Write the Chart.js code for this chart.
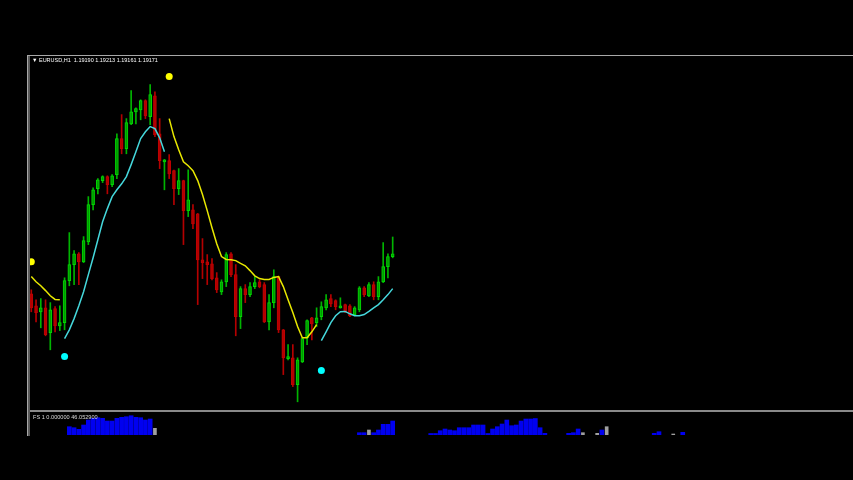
<!DOCTYPE html>
<html>
<head>
<meta charset="utf-8">
<script src="https://cdn.jsdelivr.net/npm/chart.js@4/dist/chart.umd.min.js"></script>
<style>
    html, body { margin: 0; padding: 0; background: #000; }
    #wrap { position: relative; width: 853px; height: 480px; background: #000; overflow: hidden; }
    #main { position: absolute; left: 0; top: 0; }
    #sub { position: absolute; left: 0; top: 412px; }
    .line { position: absolute; }
    #frameTop { left: 27px; top: 55px; width: 826px; height: 1px; background: #a8a8a8; }
    #frameLeft1 { left: 27px; top: 55px; width: 1px; height: 381px; background: #a8a8a8; }
    #frameLeft2 { left: 28px; top: 56px; width: 2px; height: 380px; background: #5a5a5a; }
    #sep { left: 27px; top: 410px; width: 826px; height: 2px; background: #8a8a8a; }
    .label { position: absolute; color: #fff; font-family: "Liberation Sans", Arial, sans-serif; font-size: 5.5px; white-space: pre; line-height: 7px; }
    #title { left: 32px; top: 57px; }
    #fsLabel { left: 33px; top: 414px; color: #d8d8d8; font-size: 5.6px; }
</style>
</head>
<body>
<div id="wrap">
    <canvas id="main" width="853" height="410"></canvas>
    <canvas id="sub" width="853" height="24"></canvas>
    <div class="line" id="frameTop"></div>
    <div class="line" id="sep"></div>
    <div class="line" id="frameLeft1"></div>
    <div class="line" id="frameLeft2"></div>
    <div class="label" id="title">▼ EURUSD,H1  1.19190 1.19213 1.19161 1.19171</div>
    <div class="label" id="fsLabel">FS 1 0.000000 46.052900</div>
</div>
<script>
/* --- Data (EURUSD H1) --- */
const candleOpen = [1.19071, 1.19041, 1.19026, 1.19036, 1.18974, 1.19034, 1.18991, 1.18999, 1.19104, 1.19144,
    1.19171, 1.19151, 1.19201, 1.19294, 1.19334, 1.19354, 1.19364, 1.19344, 1.19369, 1.19459,
    1.19434, 1.19496, 1.19526, 1.19531, 1.19554, 1.19514, 1.19566, 1.19471, 1.19401, 1.19404,
    1.19379, 1.19334, 1.19354, 1.19279, 1.19281, 1.19271, 1.19156, 1.19151, 1.19146, 1.19111,
    1.19076, 1.19101, 1.19171, 1.19119, 1.19014, 1.19084, 1.19069, 1.19089, 1.19101, 1.19094,
    1.19001, 1.19049, 1.19114, 1.18981, 1.18909, 1.18911, 1.18844, 1.18901, 1.18961, 1.19011,
    1.18999, 1.19014, 1.19036, 1.19059, 1.19054, 1.19036, 1.19044, 1.19041, 1.19019, 1.19031,
    1.19086, 1.19066, 1.19094, 1.19064, 1.19101, 1.19139, 1.19164];
const candleHigh = [1.19081, 1.19056, 1.19059, 1.19056, 1.19049, 1.19039, 1.19041, 1.19111, 1.19224, 1.19179,
    1.19174, 1.19214, 1.19314, 1.19336, 1.19359, 1.19366, 1.19366, 1.19369, 1.19471, 1.19519,
    1.19509, 1.19579, 1.19536, 1.19556, 1.19556, 1.19594, 1.19576, 1.19509, 1.19407, 1.19419,
    1.19380, 1.19384, 1.19355, 1.19381, 1.19294, 1.19272, 1.19209, 1.19169, 1.19159, 1.19124,
    1.19106, 1.19174, 1.19174, 1.19144, 1.19089, 1.19094, 1.19099, 1.19114, 1.19106, 1.19099,
    1.19069, 1.19131, 1.19115, 1.18982, 1.18944, 1.18944, 1.18911, 1.18961, 1.19006, 1.19012,
    1.19036, 1.19051, 1.19069, 1.19069, 1.19056, 1.19061, 1.19045, 1.19044, 1.19039, 1.19089,
    1.19089, 1.19099, 1.19101, 1.19114, 1.19199, 1.19171, 1.19213];
const candleLow = [1.19026, 1.19001, 1.18986, 1.18966, 1.18931, 1.18976, 1.18979, 1.18981, 1.19091, 1.19094,
    1.19094, 1.19149, 1.19194, 1.19281, 1.19321, 1.19349, 1.19321, 1.19339, 1.19359, 1.19421,
    1.19421, 1.19494, 1.19496, 1.19506, 1.19509, 1.19494, 1.19464, 1.19384, 1.19331, 1.19359,
    1.19294, 1.19319, 1.19194, 1.19264, 1.19234, 1.19044, 1.19109, 1.19094, 1.19106, 1.19074,
    1.19069, 1.19089, 1.19114, 1.18966, 1.18984, 1.19049, 1.19064, 1.19084, 1.19086, 1.18999,
    1.18981, 1.19036, 1.18974, 1.18869, 1.18906, 1.18839, 1.18801, 1.18899, 1.18944, 1.18956,
    1.18989, 1.19006, 1.19031, 1.19039, 1.19031, 1.19035, 1.19024, 1.19014, 1.19016, 1.19026,
    1.19064, 1.19064, 1.19056, 1.19056, 1.19099, 1.19111, 1.19161];
const candleClose = [1.19036, 1.19024, 1.19036, 1.18969, 1.19031, 1.18991, 1.18999, 1.19104, 1.19144, 1.19171,
    1.19151, 1.19204, 1.19294, 1.19331, 1.19356, 1.19364, 1.19344, 1.19366, 1.19459, 1.19434,
    1.19499, 1.19526, 1.19534, 1.19554, 1.19516, 1.19569, 1.19469, 1.19404, 1.19406, 1.19371,
    1.19334, 1.19354, 1.19279, 1.19306, 1.19246, 1.19156, 1.19149, 1.19144, 1.19109, 1.19081,
    1.19101, 1.19169, 1.19119, 1.19014, 1.19084, 1.19069, 1.19089, 1.19099, 1.19089, 1.19001,
    1.19049, 1.19114, 1.18981, 1.18911, 1.18914, 1.18844, 1.18906, 1.18959, 1.19004, 1.18996,
    1.19011, 1.19039, 1.19056, 1.19046, 1.19039, 1.19041, 1.19026, 1.19016, 1.19036, 1.19086,
    1.19069, 1.19094, 1.19064, 1.19101, 1.19139, 1.19164, 1.19171];

// trend line: cyan below price in up-trend, yellow above price in down-trend
const upLine = [null, null, null, null, null, null, null,
    1.18959, 1.18981, 1.19009, 1.19041, 1.19076, 1.19119, 1.19161, 1.19206, 1.19251, 1.19284,
    1.19314, 1.19331, 1.19346, 1.19364, 1.19394, 1.19426, 1.19459, 1.19476, 1.19489, 1.19484,
    1.19461, 1.19426,
    null, null, null, null, null, null, null, null, null, null, null, null, null, null, null, null,
    null, null, null, null, null, null, null, null, null, null, null, null, null, null, null, null,
    1.18954, 1.18976, 1.18999, 1.19016, 1.19026, 1.19027, 1.19021, 1.19016, 1.19016, 1.19019,
    1.19027, 1.19036, 1.19044, 1.19056, 1.19069, 1.19084];
const downLine = [1.19114, 1.19101, 1.19091, 1.19079, 1.19066, 1.19057, 1.19056,
    null, null, null, null, null, null, null, null, null, null, null,
    null, null, null, null, null, null, null, null, null, null, null,
    1.19509, 1.19464, 1.19431, 1.19401, 1.19391, 1.19379, 1.19354, 1.19319, 1.19279, 1.19236,
    1.19196, 1.19164, 1.19157, 1.19156, 1.19154, 1.19147, 1.19141, 1.19129, 1.19116, 1.19109,
    1.19107, 1.19107, 1.19112, 1.19114, 1.19089, 1.19056, 1.19024, 1.18989, 1.18961, 1.18961,
    1.18976, 1.18994,
    null, null, null, null, null, null, null, null, null, null, null, null, null, null, null, null];

// trend change dots
const upDotBar = [7, 61];
const upDotPrice = [1.18914, 1.18879];
const downDotBar = [0, 29];
const downDotPrice = [1.19151, 1.19614];

// FS histogram (sub window), bar index and value
const fsBlueBar = [8, 9, 10, 11, 12, 13, 14, 15, 16, 17, 18, 19, 20, 21, 22, 23, 24, 25,
    69, 70, 72, 73, 74, 75, 76,
    84, 85, 86, 87, 88, 89, 90, 91, 92, 93, 94, 95, 96, 97, 98, 99, 100, 101, 102, 103, 104, 105, 106, 107, 108,
    113, 114, 115, 120, 131, 132, 137];
const fsBlueValue = [16.6, 14.6, 11.4, 20, 30, 33.4, 34.6, 33.4, 28, 28, 33.4, 35.4, 36.6, 38.6, 35.4, 34.6, 30, 32,
    4.6, 4.6, 4.6, 10, 21.4, 21.4, 28,
    3, 3, 8.6, 12, 10, 8.6, 14.6, 14.6, 14.6, 20, 20, 20, 3, 12, 16.6, 22, 30, 18.6, 20, 28, 32, 32, 33, 14.6, 3.4,
    3.4, 4.6, 12, 10, 3.4, 6.6, 5.4];
const fsGreyBar = [26, 71, 116, 119, 121, 135];
const fsGreyValue = [13.4, 10, 4.6, 3.4, 16.6, 2];
const fsMax = 46.0529;

/* --- Chart setup --- */
const xMin = -0.27;
const xMax = 172.8;
const priceMin = 1.18783;
const priceMax = 1.196655;

const isBull = candleOpen.map((o, i) => candleClose[i] >= o);

function xyLine(values) {
    return values.map((v, i) => ({ x: i, y: v }));
}

function xyPoints(bars, values) {
    return bars.map((b, i) => ({ x: b, y: values[i] }));
}

function initMain() {
    const ctx = document.getElementById('main').getContext('2d');
    new Chart(ctx, {
        type: 'bar',
        data: {
            datasets: [
                {
                    label: 'wicks',
                    data: candleOpen.map((o, i) => ({ x: i, y: [candleLow[i], candleHigh[i]] })),
                    backgroundColor: isBull.map(b => b ? '#00b400' : '#b40000'),
                    barThickness: 1,
                    grouped: false,
                    order: 3
                },
                {
                    label: 'bodies',
                    data: candleOpen.map((o, i) => ({ x: i, y: [o, candleClose[i]] })),
                    backgroundColor: isBull.map(b => b ? '#009a00' : '#b00000'),
                    borderColor: isBull.map(b => b ? '#00d800' : '#c00000'),
                    borderWidth: 1,
                    borderSkipped: false,
                    barThickness: 3,
                    grouped: false,
                    order: 2
                },
                {
                    type: 'line',
                    label: 'up',
                    data: xyLine(upLine),
                    borderColor: '#45d8dc',
                    borderWidth: 1.5,
                    pointRadius: 0,
                    spanGaps: false,
                    order: 1
                },
                {
                    type: 'line',
                    label: 'down',
                    data: xyLine(downLine),
                    borderColor: '#e8e800',
                    borderWidth: 1.5,
                    pointRadius: 0,
                    spanGaps: false,
                    order: 1
                },
                {
                    type: 'scatter',
                    label: 'up dots',
                    data: xyPoints(upDotBar, upDotPrice),
                    backgroundColor: '#00ffff',
                    borderWidth: 0,
                    pointRadius: 3.5,
                    order: 0
                },
                {
                    type: 'scatter',
                    label: 'down dots',
                    data: xyPoints(downDotBar, downDotPrice),
                    backgroundColor: '#ffff00',
                    borderWidth: 0,
                    pointRadius: 3.5,
                    order: 0
                }
            ]
        },
        options: {
            responsive: false,
            animation: false,
            layout: { autoPadding: false, padding: { left: 30, top: 56, right: 0, bottom: 1 } },
            plugins: { legend: { display: false }, tooltip: { enabled: false } },
            scales: {
                x: { type: 'linear', min: xMin, max: xMax, offset: false, display: false },
                y: { min: priceMin, max: priceMax, display: false }
            }
        }
    });
}

function initSub() {
    const ctx = document.getElementById('sub').getContext('2d');
    new Chart(ctx, {
        type: 'bar',
        data: {
            datasets: [
                {
                    label: 'FS',
                    data: xyPoints(fsBlueBar, fsBlueValue),
                    backgroundColor: '#0000f0',
                    barThickness: 4,
                    grouped: false
                },
                {
                    label: 'FS grey',
                    data: xyPoints(fsGreyBar, fsGreyValue),
                    backgroundColor: '#a0a0a0',
                    barThickness: 3,
                    grouped: false
                }
            ]
        },
        options: {
            responsive: false,
            animation: false,
            layout: { autoPadding: false, padding: { left: 30, top: 0, right: 0, bottom: 1 } },
            plugins: { legend: { display: false }, tooltip: { enabled: false } },
            scales: {
                x: { type: 'linear', min: xMin, max: xMax, offset: false, display: false },
                y: { min: 0, max: fsMax, display: false }
            }
        }
    });
}

document.addEventListener('DOMContentLoaded', () => {
    initMain();
    initSub();
});
</script>
</body>
</html>
